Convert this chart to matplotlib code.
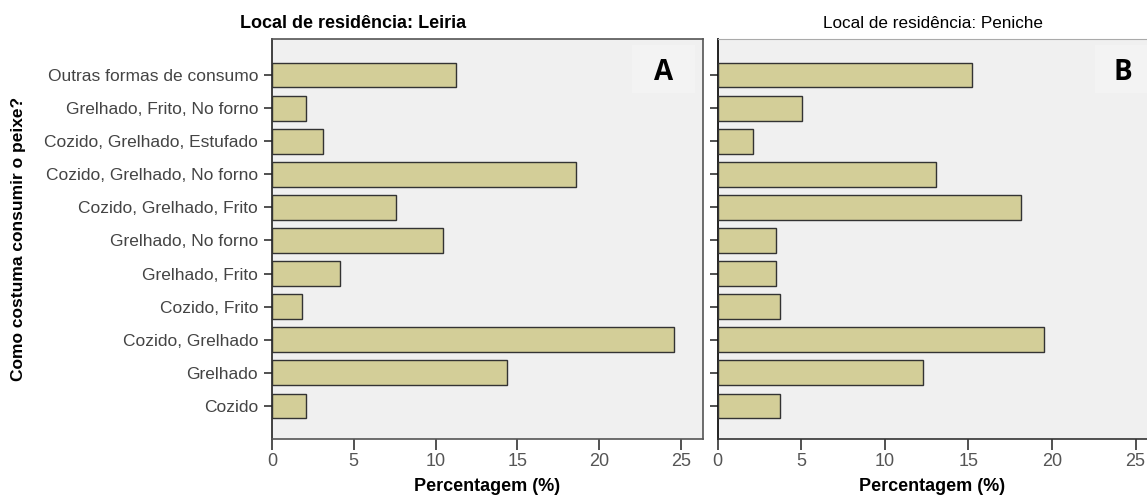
import matplotlib
matplotlib.use("Agg")
import matplotlib.pyplot as plt
from matplotlib.patches import Rectangle

categories = [
    "Cozido",
    "Grelhado",
    "Cozido, Grelhado",
    "Cozido, Frito",
    "Grelhado, Frito",
    "Grelhado, No forno",
    "Cozido, Grelhado, Frito",
    "Cozido, Grelhado, No forno",
    "Cozido, Grelhado, Estufado",
    "Grelhado, Frito, No forno",
    "Outras formas de consumo",
]
leiria = [2.08, 14.36, 24.55, 1.81, 4.18, 10.45, 7.58, 18.56, 3.14, 2.08, 11.23]
peniche = [3.73, 12.3, 19.52, 3.73, 3.47, 3.47, 18.18, 13.08, 2.13, 5.06, 15.23]
xticks = [0, 5, 10, 15, 20, 25]

plt.rcParams['font.family'] = ['Liberation Sans', 'DejaVu Sans']

W, H = 1147, 497
fig = plt.figure(figsize=(W / 100, H / 100), dpi=100)

def ax_rect(x0, x1, y0, y1):
    return [x0 / W, 1 - y1 / H, (x1 - x0) / W, (y1 - y0) / H]

axL = fig.add_axes(ax_rect(272, 703, 39, 439))
axR = fig.add_axes(ax_rect(717.5, 1147, 39, 439))

bg = '#f0f0f0'
barc = '#d3ce98'
ypos = list(range(len(categories)))

for ax, vals, xmax in [(axL, leiria, (703 - 272) / 16.36), (axR, peniche, (1147 - 717.5) / 16.72)]:
    ax.set_facecolor(bg)
    ax.barh(ypos, vals, height=0.75, color=barc, edgecolor='#333333', linewidth=1.0, zorder=3)
    ax.set_xlim(0, xmax)
    ax.set_ylim(-1.0, 11.09)
    ax.set_xticks(xticks)
    ax.set_xticklabels([str(t) for t in xticks], fontsize=13, color='#555555')
    ax.tick_params(axis='x', length=8, width=1.2, color='#333333', pad=2)
    ax.tick_params(axis='y', length=6, width=1.2, color='#333333', pad=4)
    ax.set_yticks(ypos)
    ax.set_xlabel('Percentagem (%)', fontsize=13, fontweight='bold', labelpad=6)

axL.set_yticklabels(categories, fontsize=12.5, color='#444444')
axR.set_yticklabels([])
axL.set_ylabel('Como costuma consumir o peixe?', fontsize=12.5, fontweight='bold')
axL.yaxis.set_label_coords((26 - 272) / (703 - 272), 0.5)

for sp in axL.spines.values():
    sp.set_color('#555555')
    sp.set_linewidth(1.2)
axL.spines['left'].set_color('#222222')
axR.spines['left'].set_color('#111111')
axR.spines['left'].set_linewidth(1.3)
axR.spines['top'].set_color('#aaaaaa')
axR.spines['bottom'].set_color('#333333')
axR.spines['bottom'].set_linewidth(1.2)
axR.spines['right'].set_visible(False)

# panel letters in lighter boxes
for ax, letter, x0, x1 in [(axL, 'A', 632, 695), (axR, 'B', 1095, 1147)]:
    fig.patches.append(Rectangle((x0 / W, 1 - 93 / H), (x1 - x0) / W, (93 - 45) / H,
                                 transform=fig.transFigure, facecolor='#f3f3f3',
                                 edgecolor='none', zorder=5))
fig.text(663.5 / W, 1 - 72 / H, 'A', fontsize=20, fontweight='bold', family=['Open Sans', 'DejaVu Sans'],
         ha='center', va='center', zorder=6)
fig.text(1123 / W, 1 - 72 / H, 'B', fontsize=20, fontweight='bold', family=['Open Sans', 'DejaVu Sans'],
         ha='center', va='center', zorder=6)

fig.text(353 / W, 1 - 24 / H, 'Local de residência: Leiria', fontsize=13, fontweight='bold',
         ha='center', va='center')
fig.text(933 / W, 1 - 24 / H, 'Local de residência: Peniche', fontsize=12.3,
         ha='center', va='center')

fig.savefig('out.png', dpi=100, facecolor='white')
